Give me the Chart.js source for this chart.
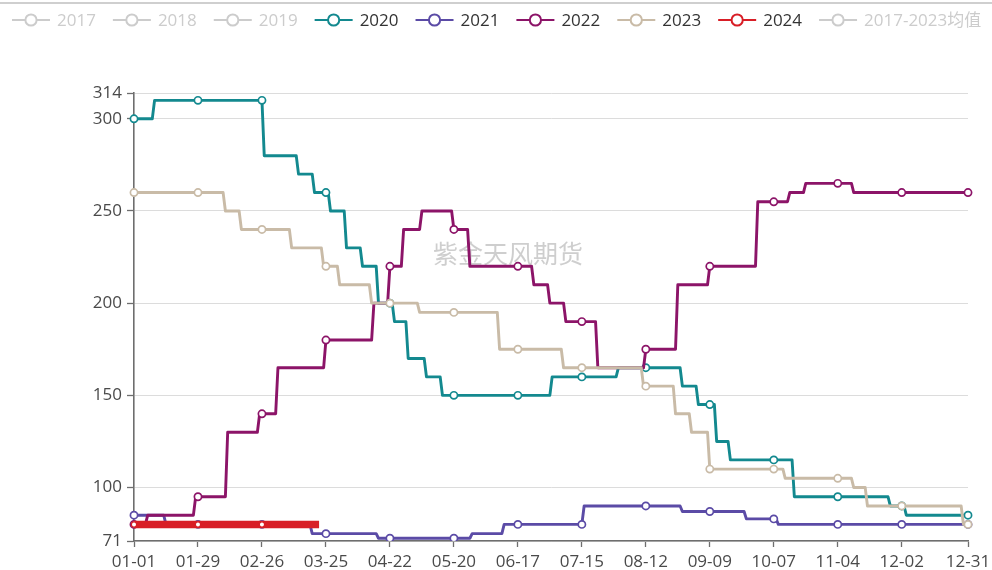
<!DOCTYPE html>
<html>
<head>
<meta charset="utf-8">
<script src="https://cdn.jsdelivr.net/npm/chart.js@4.4.1/dist/chart.umd.min.js"></script>
<style>
  html, body { margin: 0; padding: 0; background: #fff; }
  #wrap { position: relative; width: 992px; height: 570px; }
</style>
</head>
<body>
<div id="wrap"><canvas id="c" width="992" height="570"></canvas></div>
<script>
// Daily categories (MM-DD) over a 366-day calendar year
const monthDays = [31, 29, 31, 30, 31, 30, 31, 31, 30, 31, 30, 31];
const days = [];
monthDays.forEach((n, m) => {
  for (let d = 1; d <= n; d++) {
    days.push(String(m + 1).padStart(2, '0') + '-' + String(d).padStart(2, '0'));
  }
});

// Labelled x-axis dates and y-axis values
const xTickDates = ['01-01', '01-29', '02-26', '03-25', '04-22', '05-20', '06-17',
                    '07-15', '08-12', '09-09', '10-07', '11-04', '12-02', '12-31'];
const yTicks = [71, 100, 150, 200, 250, 300, 314];

// Price levels: [date the level starts, value]; a level holds until the next entry
const s2020 = [
  ['01-01', 300], ['01-10', 310], ['02-27', 280], ['03-13', 270], ['03-20', 260],
  ['03-27', 250], ['04-03', 230], ['04-10', 220], ['04-17', 200], ['04-24', 190],
  ['04-30', 170], ['05-08', 160], ['05-15', 150], ['07-02', 160], ['07-31', 165],
  ['08-28', 155], ['09-04', 145], ['09-12', 125], ['09-18', 115], ['10-16', 95],
  ['11-27', 90], ['12-04', 85]
];
const s2021 = [
  ['01-01', 85], ['01-15', 80], ['03-19', 75], ['04-17', 72.5], ['05-28', 75],
  ['06-11', 80], ['07-16', 90], ['08-28', 87], ['09-25', 83], ['10-09', 80]
];
const s2022 = [
  ['01-01', 80], ['01-07', 85], ['01-28', 95], ['02-11', 130], ['02-25', 140],
  ['03-04', 165], ['03-25', 180], ['04-15', 200], ['04-22', 220], ['04-28', 240],
  ['05-06', 250], ['05-20', 240], ['05-27', 220], ['06-24', 210], ['07-01', 200],
  ['07-08', 190], ['07-22', 165], ['08-12', 175], ['08-26', 210], ['09-09', 220],
  ['09-30', 255], ['10-14', 260], ['10-21', 265], ['11-11', 260]
];
const s2023 = [
  ['01-01', 260], ['02-10', 250], ['02-17', 240], ['03-10', 230], ['03-24', 220],
  ['03-31', 210], ['04-14', 200], ['05-05', 195], ['06-09', 175], ['07-07', 165],
  ['08-11', 155], ['08-25', 140], ['09-01', 130], ['09-09', 110], ['10-12', 105],
  ['11-11', 100], ['11-17', 90], ['12-29', 80]
];
const s2024 = [['01-01', 80], ['03-23', null]];

const seriesNames = ['2017', '2018', '2019', '2020', '2021', '2022', '2023', '2024', '2017-2023均值'];
const seriesColors = ['#cccccc', '#cccccc', '#cccccc', '#13898f', '#5b4ba6', '#8c1468', '#c9bba7', '#d81e26', '#cccccc'];

// Expand level changes into one value per day
function daily(levels) {
  const starts = levels.map(l => days.indexOf(l[0]));
  const out = [];
  let k = 0;
  for (let i = 0; i < days.length; i++) {
    while (k + 1 < levels.length && starts[k + 1] <= i) k++;
    out.push(levels[k][1]);
  }
  while (out.length && out[out.length - 1] === null) out.pop();
  return out;
}

const FONT = '"Open Sans", "Noto Sans CJK SC", sans-serif';
const markerAt = ctx => xTickDates.includes(days[ctx.dataIndex]);

function lineSet(idx, levels, drawOrder, width) {
  const color = seriesColors[idx];
  return {
    label: seriesNames[idx],
    data: daily(levels),
    borderColor: color,
    backgroundColor: color,
    borderWidth: width,
    borderJoinStyle: 'round',
    borderCapStyle: 'butt',
    tension: 0,
    fill: false,
    order: drawOrder,
    pointRadius: ctx => markerAt(ctx) ? 3.6 : 0,
    pointBackgroundColor: '#ffffff',
    pointBorderColor: color,
    pointBorderWidth: 1.7
  };
}

function hiddenSet(idx) {
  return { label: seriesNames[idx], data: [], borderColor: seriesColors[idx], hidden: true, order: 0 };
}

const set2024 = lineSet(7, s2024, 1, 7.5);
set2024.pointRadius = ctx => markerAt(ctx) ? 2.6 : 0;
set2024.pointBorderWidth = 1.2;

const datasets = [
  hiddenSet(0), hiddenSet(1), hiddenSet(2),
  lineSet(3, s2020, 6, 2.9),
  lineSet(4, s2021, 5, 2.9),
  lineSet(5, s2022, 4, 2.9),
  lineSet(6, s2023, 3, 2.9),
  set2024,
  hiddenSet(8)
];

// Legend row, frame line and watermark
const decor = {
  id: 'decor',
  beforeDatasetsDraw(chart) {
    const ctx = chart.ctx;
    ctx.save();
    ctx.font = '25px "Noto Sans CJK SC", sans-serif';
    ctx.fillStyle = 'rgba(190,190,190,0.75)';
    ctx.textAlign = 'center';
    ctx.textBaseline = 'middle';
    ctx.fillText('紫金天风期货', 508, 253);
    ctx.restore();
  },
  afterDraw(chart) {
    const ctx = chart.ctx;
    ctx.save();
    ctx.fillStyle = '#cfcfcf';
    ctx.fillRect(0, 2, chart.width, 2);
    ctx.font = '17px ' + FONT;
    ctx.textBaseline = 'middle';
    ctx.textAlign = 'left';
    let x = 12;
    const y = 20;
    chart.data.datasets.forEach((ds, i) => {
      const on = chart.isDatasetVisible(i);
      const col = on ? ds.borderColor : '#cccccc';
      ctx.strokeStyle = col;
      ctx.lineWidth = 2;
      ctx.beginPath();
      ctx.moveTo(x, y);
      ctx.lineTo(x + 38, y);
      ctx.stroke();
      ctx.beginPath();
      ctx.arc(x + 19, y, 5.6, 0, Math.PI * 2);
      ctx.fillStyle = '#ffffff';
      ctx.fill();
      ctx.stroke();
      ctx.fillStyle = on ? '#333333' : '#cccccc';
      ctx.fillText(ds.label, x + 45, y + 1);
      x += 45 + ctx.measureText(ds.label).width + 17;
    });
    ctx.restore();
  }
};

new Chart(document.getElementById('c'), {
  type: 'line',
  data: { labels: days, datasets },
  options: {
    responsive: false,
    animation: false,
    events: [],
    layout: { padding: { top: 93, right: 24, left: 0, bottom: 0 } },
    plugins: { legend: { display: false }, tooltip: { enabled: false } },
    scales: {
      x: {
        type: 'category',
        offset: false,
        grid: { drawOnChartArea: false, drawTicks: true, tickLength: 6, tickColor: '#6e6e6e', tickWidth: 1.3 },
        border: { color: '#6e6e6e', width: 1.6 },
        ticks: { autoSkip: false, maxRotation: 0, color: '#4a4a4a', font: { size: 17, family: FONT }, padding: 5 },
        afterBuildTicks: s => { s.ticks = s.ticks.filter(t => xTickDates.includes(days[t.value])); },
        afterFit: s => { s.height = 29; s.paddingLeft = 0; s.paddingRight = 0; }
      },
      y: {
        min: 71,
        max: 314,
        grid: { color: '#dcdcdc', lineWidth: 1, tickLength: 7, tickColor: '#6e6e6e', tickWidth: 1.3 },
        border: { color: '#6e6e6e', width: 1.6 },
        ticks: { color: '#4a4a4a', font: { size: 17, family: FONT }, padding: 5 },
        afterBuildTicks: s => { s.ticks = yTicks.map(v => ({ value: v })); },
        afterFit: s => { s.width = 134; s.paddingTop = 0; s.paddingBottom = 0; }
      }
    }
  },
  plugins: [decor]
});
</script>
</body>
</html>
